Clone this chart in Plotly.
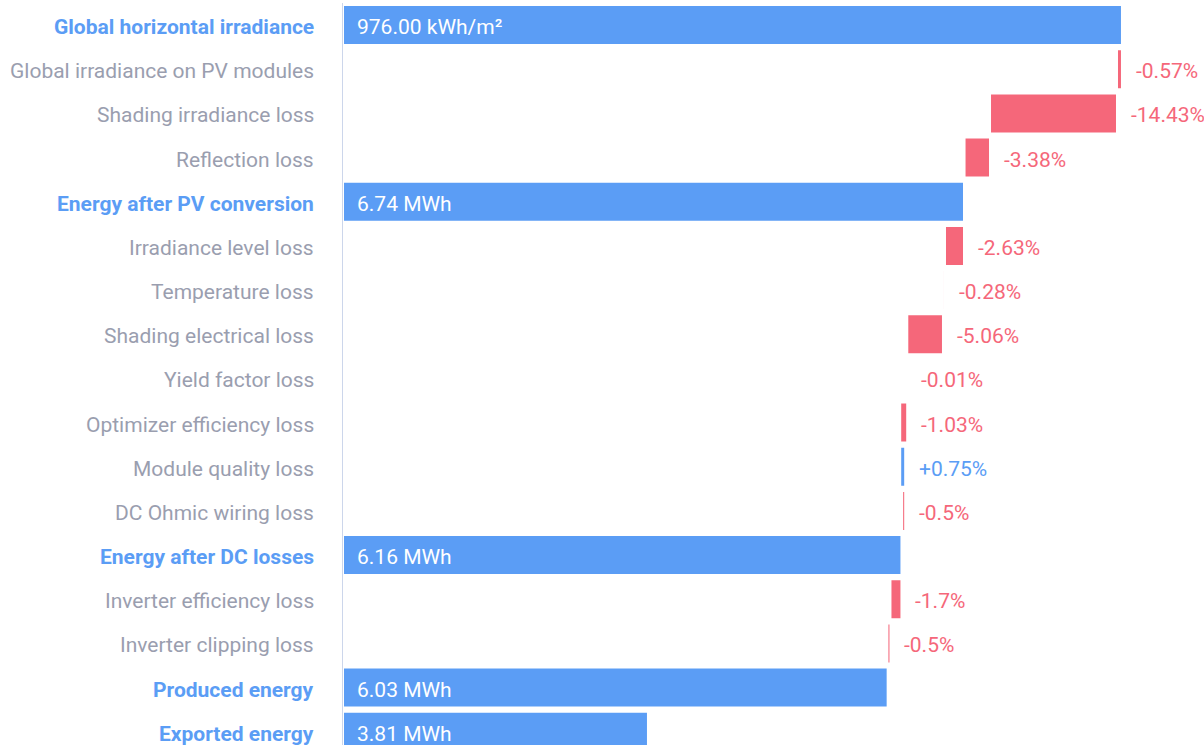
import numpy as np
import plotly.graph_objects as go

categories = [
    "Global horizontal irradiance",
    "Global irradiance on PV modules",
    "Shading irradiance loss",
    "Reflection loss",
    "Energy after PV conversion",
    "Irradiance level loss",
    "Temperature loss",
    "Shading electrical loss",
    "Yield factor loss",
    "Optimizer efficiency loss",
    "Module quality loss",
    "DC Ohmic wiring loss",
    "Energy after DC losses",
    "Inverter efficiency loss",
    "Inverter clipping loss",
    "Produced energy",
    "Exported energy",
]
measures = ["absolute", "relative", "relative", "relative", "absolute",
            "relative", "relative", "relative", "relative", "relative",
            "relative", "relative", "absolute", "relative", "relative",
            "absolute", "absolute"]
# bar lengths, normalised so that the global horizontal irradiance = 100
values = [100.0, -0.64, -16.30, -3.27, 79.72,
          -2.44, -0.26, -4.58, -0.01, -0.90,
          0.64, -0.39, 71.69, -1.41, -0.39,
          69.92, 39.15]
labels = ["976.00 kWh/m²", "-0.57%", "-14.43%", "-3.38%", "6.74 MWh",
          "-2.63%", "-0.28%", "-5.06%", "-0.01%", "-1.03%",
          "+0.75%", "-0.5%", "6.16 MWh", "-1.7%", "-0.5%",
          "6.03 MWh", "3.81 MWh"]

BLUE = "#5B9DF5"
RED = "#F5677A"
GREY = "#9A9EAF"
FONT = "Roboto"
FS = 21
YSHIFT = -2

fig = go.Figure()
fig.add_trace(go.Waterfall(
    orientation="h",
    y=categories,
    x=values,
    measure=measures,
    connector=dict(visible=False),
    decreasing=dict(marker=dict(color=RED, line=dict(color="white", width=2))),
    increasing=dict(marker=dict(color=BLUE, line=dict(color="white", width=2))),
    totals=dict(marker=dict(color=BLUE, line=dict(color="white", width=2))),
    textinfo="none",
    hoverinfo="skip",
))

annotations = []
# category labels
for cat, m in zip(categories, measures):
    is_total = m == "absolute"
    annotations.append(dict(
        x=0, y=cat, xref="paper", yref="y",
        text=f"<b>{cat}</b>" if is_total else cat,
        showarrow=False, xanchor="right", yanchor="middle",
        xshift=-27, yshift=YSHIFT,
        font=dict(family=FONT, size=FS, color=BLUE if is_total else GREY)))

# value labels, placed from the bar extents
prev = 0.0
for cat, m, v, lab in zip(categories, measures, values, labels):
    if m == "absolute":
        prev = v
        annotations.append(dict(x=0, y=cat, xref="x", yref="y", text=lab,
                                showarrow=False, xanchor="left", yanchor="middle",
                                xshift=12, yshift=YSHIFT,
                                font=dict(family=FONT, size=FS, color="white")))
    else:
        start, end = prev, prev + v
        prev = end
        right = max(start, end)
        annotations.append(dict(x=right, y=cat, xref="x", yref="y", text=lab,
                                showarrow=False, xanchor="left", yanchor="middle",
                                xshift=12, yshift=YSHIFT,
                                font=dict(family=FONT, size=FS,
                                          color=BLUE if v > 0 else RED)))

fig.update_layout(
    width=1204, height=745,
    margin=dict(l=343, r=0, t=3, b=0),
    paper_bgcolor="white", plot_bgcolor="white",
    showlegend=False,
    waterfallgap=0.094,
    font=dict(family=FONT, size=FS, color=GREY),
    xaxis=dict(range=[0, 110.53], showgrid=False, zeroline=False,
               showticklabels=False, showline=False, fixedrange=True),
    yaxis=dict(type="category", categoryorder="array", categoryarray=categories,
               range=[16.30, -0.5], showticklabels=False, showgrid=False,
               zeroline=False, showline=True, linecolor="#CCD6EB", linewidth=1,
               ticks=""),
    annotations=annotations,
)

fig.write_html("out.html", config={"displayModeBar": False},
               post_script="document.body.style.margin='0';")
